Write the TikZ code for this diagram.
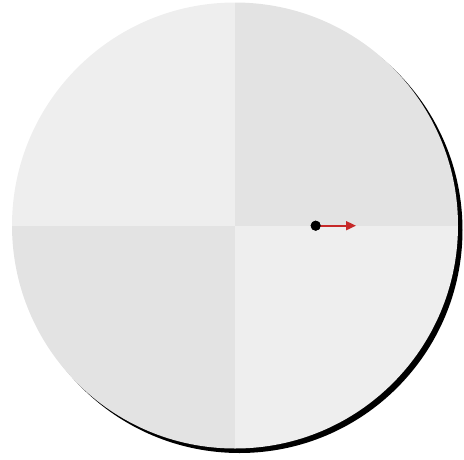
\documentclass[tikz,border=0pt]{standalone}
\usetikzlibrary{arrows.meta,calc}
\definecolor{lightq}{HTML}{EEEEEE}
\definecolor{darkq}{HTML}{E3E3E3}
\definecolor{arrowred}{HTML}{C62828}
\begin{document}
\begin{tikzpicture}[x=1pt,y=-1pt,
  dotnode/.style={circle,fill=black,inner sep=0pt,minimum size=10pt},
  vec/.style={color=arrowred,line width=1.8pt,-{Triangle[length=10pt,width=9pt]}}]
\useasboundingbox (0,0) rectangle (464,459);
\coordinate (c) at (235,225.5);
% shadow
\fill[black] ($(c)+(4.5,4.5)$) circle (223);
% quadrants
\begin{scope}
\clip (c) circle (223);
\fill[lightq] (c) rectangle ++(-230,-230);
\fill[darkq] (c) rectangle ++(230,-230);
\fill[darkq] (c) rectangle ++(-230,230);
\fill[lightq] (c) rectangle ++(230,230);
\end{scope}
\node[dotnode] (p) at (315.7,225.7) {};
\coordinate (tip) at (356,225.7);
\draw[vec] (p.center) -- (tip);
\fill[black] (p) circle (5);
\end{tikzpicture}
\end{document}
